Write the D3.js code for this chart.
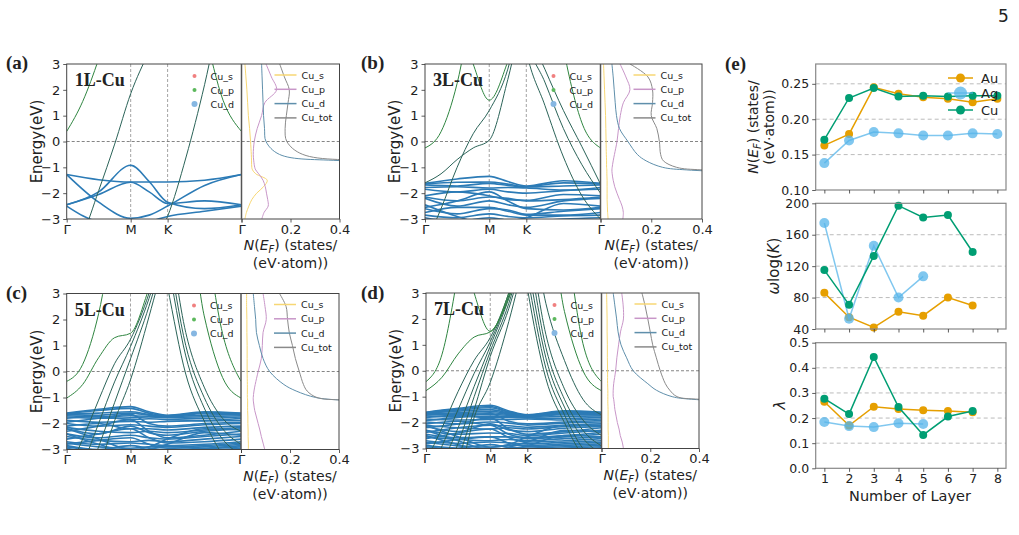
<!DOCTYPE html>
<html>
<head>
<meta charset="utf-8">
<script src="https://d3js.org/d3.v7.min.js"></script>
<style>
  body { margin: 0; background: #fff; }
  text { font-family: "DejaVu Sans", sans-serif; fill: #222; }
  .tag { font-family: "Liberation Serif", serif; font-weight: bold; }
</style>
</head>
<body>
<svg width="1019" height="535"></svg>

<script>
// ---- band structure k-path ----
var kPts   = [0, 0.25, 0.5, 0.75, 1, 1.289, 1.577, 1.866, 2.155, 2.443, 2.732];  // sp bands
var dkPts  = [0, 0.5, 1, 1.289, 1.577, 2.155, 2.732];                             // d bands
var kTicks = [0, 1, 1.577, 2.732];
var kLabels = ["Γ", "M", "K", "Γ"];
var eTicks = [-3, -2, -1, 0, 1, 2, 3];
var dosTicks = [0, 0.2, 0.4];
var orbNames = ["Cu_s", "Cu_p", "Cu_d"];
var dosNames = ["Cu_s", "Cu_p", "Cu_d", "Cu_tot"];
var panelTags  = ["(a)", "(b)", "(c)", "(d)"];
var panelNames = ["1L-Cu", "3L-Cu", "5L-Cu", "7L-Cu"];

// ---- 1L ----
var spGreen1L = [[0.39, 1.55, 3.2, 5.2, 6.5, 7, 7, 6.5, 4.2, 1.6, 0.39]];
var spDark1L = [
  [-4.5, -3.6, -1.9, -0.1, 1.85, 3.5, 5, 7, 7, 7, 7],
  [-8, -8, -8, -7, -5.5, -4.2, -2.9, -0.6, 2.2, 5.5, 8]
];
var dBands1L = [
  [-1.28, -1.48, -1.57, -1.57, -1.57, -1.5, -1.28],
  [-1.28, -2.35, -2.97, -2.85, -2.5, -1.7, -1.28],
  [-2.45, -1.95, -0.92, -1.55, -2.35, -2.6, -2.45],
  [-2.45, -2.05, -1.58, -1.95, -2.4, -2.3, -2.45],
  [-2.5, -3.1, -3.2, -3.1, -2.9, -2.7, -2.5]
];

// ---- 3L ----
var spGreen3L = [
  [-0.25, 0.38, 2.25, 5.4, 8, 8, 8, 8, 3.6, 0.72, -0.25],
  [8, 7, 5, 3.0, 1.6, 3.1, 5.5, 8, 8, 8, 8]
];
var spDark3L = [
  [-4, -2.6, -1.0, 0.3, 1.2, 2.8, 6, 8, 8, 8, 8],
  [-1.6, -1.25, -0.7, -0.25, 0.05, 2.4, 5.5, 8, 8, 8, 8],
  [8, 8, 8, 8, 8, 8, 3.5, 1.4, -0.6, -2.1, -3],
  [8, 8, 8, 8, 8, 8, 4, 2.3, 0.5, -0.9, -2],
  [8, 8, 8, 8, 8, 8, 4.5, 2.8, 1.2, -0.2, -1.65]
];
var dBands3L = [
  [-1.62, -1.45, -1.35, -1.55, -1.72, -1.52, -1.62],
  [-1.64, -1.58, -1.57, -1.65, -1.75, -1.6, -1.64],
  [-1.68, -1.72, -1.62, -1.7, -1.76, -1.72, -1.68],
  [-1.78, -1.75, -1.8, -1.78, -1.8, -1.88, -1.78],
  [-1.85, -1.95, -1.85, -1.95, -2.0, -1.9, -1.85],
  [-2.1, -1.95, -2.1, -2.25, -2.28, -2.05, -2.1],
  [-2.15, -2.3, -2.15, -2.2, -2.3, -2.25, -2.15],
  [-2.2, -2.5, -2.3, -2.45, -2.55, -2.3, -2.2],
  [-2.55, -2.3, -1.95, -2.3, -2.6, -2.65, -2.55],
  [-2.6, -2.8, -2.6, -2.65, -2.82, -2.7, -2.6],
  [-2.75, -2.55, -2.55, -2.7, -2.85, -2.85, -2.75],
  [-2.85, -2.95, -2.8, -2.9, -2.95, -2.88, -2.85],
  [-2.95, -3.1, -2.95, -3.05, -3.1, -3.0, -2.95],
  [-2.45, -2.9, -3.2, -3.1, -2.95, -2.4, -2.5]
];

// ---- 5L ----
var spGreen5L = [
  [-0.38, 0.27, 2.22, 5.5, 8, 8, 8, 8, 5.4, 1.46, -0.38],
  [-1.02, -0.5, 0.53, 1.3, 1.47, 3.2, 5.5, 6.1, 2.14, -0.23, -1.02]
];
var spDark5L = [
  [-4, -2.6, -1.1, 0.3, 1.24, 3.0, 5.5, 8, 8, 8, 8],
  [-5, -3.6, -2.0, -0.4, 0.96, 2.8, 5.2, 8, 8, 8, 8],
  [-6, -4.5, -2.9, -1.2, 0.49, 2.5, 5, 8, 8, 8, 8],
  [-7, -5.5, -3.8, -1.9, -0.32, 2.1, 4.8, 8, 8, 8, 8],
  [8, 8, 8, 8, 8, 7, 3.3, -0.1, -1.9, -3.2, -4],
  [8, 8, 8, 8, 8, 8, 4.3, 0.6, -1.4, -2.6, -3.2],
  [8, 8, 8, 8, 8, 8, 4.8, 1.0, -1.0, -2.2, -2.8],
  [8, 8, 8, 8, 8, 8, 5.5, 1.5, -0.6, -1.8, -2.3]
];
var dBands5L = [
  [-1.6, -1.45, -1.35, -1.55, -1.68, -1.55, -1.6],
  [-1.62, -1.5, -1.42, -1.6, -1.7, -1.58, -1.62],
  [-1.64, -1.6, -1.55, -1.65, -1.72, -1.62, -1.64],
  [-1.66, -1.68, -1.6, -1.68, -1.74, -1.68, -1.66],
  [-1.7, -1.75, -1.7, -1.72, -1.76, -1.74, -1.7],
  [-1.75, -1.8, -1.78, -1.75, -1.78, -1.8, -1.75],
  [-1.8, -1.72, -1.85, -1.82, -1.85, -1.88, -1.8],
  [-1.88, -1.95, -1.92, -1.95, -1.92, -1.9, -1.88],
  [-1.95, -1.8, -1.65, -2.0, -2.1, -2.0, -1.95],
  [-2.0, -2.1, -2.05, -2.1, -2.15, -2.05, -2.0],
  [-2.1, -2.0, -2.2, -2.2, -2.25, -2.15, -2.1],
  [-2.15, -2.3, -2.35, -2.3, -2.35, -2.25, -2.15],
  [-2.2, -2.4, -2.1, -2.35, -2.45, -2.3, -2.2],
  [-2.3, -2.1, -1.85, -2.3, -2.55, -2.45, -2.3],
  [-2.4, -2.55, -2.45, -2.55, -2.6, -2.5, -2.4],
  [-2.5, -2.65, -2.7, -2.65, -2.7, -2.6, -2.5],
  [-2.6, -2.4, -2.2, -2.55, -2.75, -2.7, -2.6],
  [-2.7, -2.8, -2.75, -2.8, -2.85, -2.8, -2.7],
  [-2.75, -2.9, -2.95, -2.9, -2.9, -2.85, -2.75],
  [-2.8, -2.65, -2.55, -2.8, -2.95, -2.9, -2.8],
  [-2.85, -3.0, -2.85, -2.95, -3.0, -2.95, -2.85],
  [-2.9, -3.05, -3.15, -3.05, -3.05, -2.98, -2.9],
  [-2.95, -3.1, -3.0, -3.1, -3.15, -3.05, -2.95],
  [-2.4, -2.8, -3.1, -3.0, -2.8, -2.35, -2.45],
  [-2.2, -2.6, -3.0, -2.9, -2.6, -2.2, -2.25]
];

// ---- 7L ----
var spGreen7L = [
  [-0.42, 0.64, 3.8, 8, 8, 8, 8, 8, 5.4, 1.05, -0.42],
  [-0.77, -0.25, 0.65, 1.3, 1.5, 2.8, 5, 6.1, 2.29, 0, -0.77],
  [8, 8, 5.5, 3.0, 1.52, 3.0, 5.5, 8, 8, 8, 8]
];
var spDark7L = [
  [-3.5, -2.2, -0.8, 0.4, 1.28, 3.0, 5.5, 8, 8, 8, 8],
  [-4.2, -2.9, -1.5, -0.1, 1.12, 2.9, 5.4, 8, 8, 8, 8],
  [-5, -3.6, -2.2, -0.6, 0.95, 2.8, 5.3, 8, 8, 8, 8],
  [-5.6, -4.3, -2.8, -1.0, 0.75, 2.6, 5.2, 8, 8, 8, 8],
  [-6.2, -5, -3.4, -1.5, 0.55, 2.4, 5, 8, 8, 8, 8],
  [-7, -6, -4.3, -1.8, -0.45, 1.9, 4.8, 8, 8, 8, 8],
  [8, 8, 8, 8, 8, 8, 3.2, -0.3, -2.0, -3.3, -4],
  [8, 8, 8, 8, 8, 8, 3.7, 0.1, -1.7, -3.0, -3.6],
  [8, 8, 8, 8, 8, 8, 4.2, 0.5, -1.4, -2.6, -3.2],
  [8, 8, 8, 8, 8, 8, 4.8, 0.9, -1.1, -2.3, -2.9],
  [8, 8, 8, 8, 8, 8, 5.4, 1.4, -0.7, -1.9, -2.5],
  [8, 8, 8, 8, 8, 8, 6.5, 2.6, 0.4, -1.1, -1.7]
];
var dBands7L = [
  [-1.6, -1.45, -1.33, -1.55, -1.7, -1.55, -1.6],
  [-1.61, -1.48, -1.38, -1.58, -1.71, -1.57, -1.61],
  [-1.62, -1.52, -1.43, -1.6, -1.72, -1.59, -1.62],
  [-1.63, -1.56, -1.5, -1.63, -1.73, -1.61, -1.63],
  [-1.65, -1.62, -1.56, -1.66, -1.74, -1.64, -1.65],
  [-1.67, -1.66, -1.62, -1.69, -1.75, -1.67, -1.67],
  [-1.7, -1.7, -1.68, -1.72, -1.77, -1.7, -1.7],
  [-1.74, -1.78, -1.75, -1.76, -1.79, -1.76, -1.74],
  [-1.8, -1.72, -1.82, -1.8, -1.82, -1.84, -1.8],
  [-1.86, -1.9, -1.88, -1.88, -1.86, -1.9, -1.86],
  [-1.92, -1.8, -1.65, -1.95, -2.05, -1.98, -1.92],
  [-1.98, -2.05, -1.98, -2.02, -2.1, -2.02, -1.98],
  [-2.05, -1.95, -2.1, -2.12, -2.18, -2.1, -2.05],
  [-2.1, -2.2, -2.25, -2.2, -2.25, -2.15, -2.1],
  [-2.15, -2.35, -2.05, -2.28, -2.35, -2.22, -2.15],
  [-2.2, -2.05, -1.82, -2.25, -2.45, -2.35, -2.2],
  [-2.3, -2.45, -2.4, -2.42, -2.5, -2.4, -2.3],
  [-2.38, -2.2, -2.1, -2.45, -2.58, -2.5, -2.38],
  [-2.45, -2.58, -2.55, -2.55, -2.62, -2.55, -2.45],
  [-2.55, -2.65, -2.7, -2.65, -2.7, -2.62, -2.55],
  [-2.62, -2.4, -2.25, -2.58, -2.75, -2.7, -2.62],
  [-2.7, -2.8, -2.75, -2.78, -2.82, -2.76, -2.7],
  [-2.76, -2.9, -2.95, -2.88, -2.88, -2.82, -2.76],
  [-2.82, -2.65, -2.55, -2.8, -2.93, -2.88, -2.82],
  [-2.88, -2.98, -2.85, -2.95, -2.98, -2.93, -2.88],
  [-2.93, -3.05, -3.12, -3.05, -3.04, -2.98, -2.93],
  [-2.97, -3.1, -3.0, -3.1, -3.15, -3.05, -2.97],
  [-2.3, -2.7, -3.05, -2.95, -2.75, -2.3, -2.35],
  [-2.1, -2.55, -2.95, -2.85, -2.55, -2.1, -2.15],
  [-2.5, -2.85, -3.15, -3.1, -2.9, -2.5, -2.55]
];

// ---- projected DOS, order Cu_s, Cu_p, Cu_d, Cu_tot ----
var dosE = [3, 2.5, 2, 1.5, 1, 0.5, 0, -0.5, -0.75, -1, -1.1, -1.25, -1.5, -1.75, -2, -2.25, -2.5, -2.75, -3];
var dos1L = [
  [.014, .018, .022, .025, .028, .033, .037, .040, .041, .042, .045, .058, .105, .09, .062, .042, .03, .02, .014],
  [.10, .122, .143, .095, .082, .064, .052, .048, .05, .054, .058, .07, .088, .097, .102, .107, .109, .092, .083],
  [.082, .084, .086, .088, .09, .094, .10, .155, .42, 1.5, 1.5, 1.5, 1.5, 1.5, 1.5, 1.5, 1.5, 1.5, 1.5],
  [.156, .175, .195, .19, .183, .178, .185, .25, .6, 2, 2, 2, 2, 2, 2, 2, 2, 2, 2]
];
var dos3L = [
  [.012, .014, .016, .018, .02, .021, .022, .023, .024, .024, .025, .025, .026, .026, .026, .026, .027, .028, .03],
  [.077, .1, .116, .09, .078, .071, .065, .055, .05, .046, .045, .046, .05, .056, .065, .075, .085, .09, .088],
  [.045, .05, .054, .058, .063, .075, .108, .145, .18, .245, .34, .8, 1.5, 1.5, 1.5, 1.5, 1.5, 1.5, 1.5],
  [.116, .187, .205, .205, .2, .222, .232, .237, .248, .3, .4, .9, 2, 2, 2, 2, 2, 2, 2]
];
var dos5L = [
  [.023, .023, .024, .024, .025, .025, .025, .026, .026, .026, .027, .027, .027, .028, .028, .029, .029, .03, .03],
  [.09, .098, .103, .09, .087, .083, .07, .058, .053, .05, .05, .052, .056, .063, .07, .077, .083, .09, .097],
  [.05, .055, .06, .063, .075, .09, .117, .175, .225, .305, .41, .9, 1.5, 1.5, 1.5, 1.5, 1.5, 1.5, 1.5],
  [.157, .184, .19, .197, .21, .222, .238, .255, .27, .31, .42, .9, 2, 2, 2, 2, 2, 2, 2]
];
var dos7L = [
  [.021, .022, .023, .023, .024, .024, .025, .025, .026, .026, .026, .026, .027, .027, .027, .027, .028, .028, .028],
  [.083, .089, .09, .078, .07, .063, .058, .05, .048, .048, .05, .052, .055, .06, .065, .072, .077, .085, .09],
  [.048, .055, .062, .068, .08, .103, .13, .19, .225, .29, .37, .9, 1.5, 1.5, 1.5, 1.5, 1.5, 1.5, 1.5],
  [.166, .179, .19, .2, .21, .225, .241, .262, .28, .31, .4, .9, 2, 2, 2, 2, 2, 2, 2]
];

// ---- panel (e) ----
var layers = [1, 2, 3, 4, 5, 6, 7, 8];
var metals = ["Au", "Ag", "Cu"];
var nefAu = [0.163, 0.179, 0.245, 0.236, 0.231, 0.229, 0.224, 0.229];
var nefAg = [0.138, 0.170, 0.182, 0.180, 0.177, 0.177, 0.180, 0.179];
var nefCu = [0.171, 0.230, 0.244, 0.232, 0.233, 0.232, 0.233, 0.233];
var wlogAu = [86, 55, 42, 62, 57, 80, 70, null];
var wlogAg = [175, 53, 146, 80, 107, null, null, null];
var wlogCu = [115, 71, 133, 197, 182, 185, 138, null];
var lamAu = [0.265, 0.170, 0.245, 0.236, 0.231, 0.228, 0.223, null];
var lamAg = [0.184, 0.168, 0.164, 0.179, 0.176, null, null, null];
var lamCu = [0.277, 0.216, 0.443, 0.244, 0.133, 0.206, 0.228, null];

// ---------------------------------------------------------------
var svg = d3.select("svg");
var defs = svg.append("defs");

var orbColors = ["#f08080", "#5cb85c", "#86b7e2"];
var dosColors = ["#f7d774", "#c896c8", "#5f8fab", "#8a8a8a"];
var greenCol = "#2f8540", darkCol = "#2b6358", dCol = "#2c7bb6";

// layout of the four band/DOS panels
var boxes = [
  {x0: 66.7, x1: 241.5, x2: 339.5, y0: 64,    y1: 219,   tx: 6,   ty: 69},
  {x0: 425,  x1: 600.5, x2: 702,   y0: 64,    y1: 219,   tx: 361, ty: 69},
  {x0: 66.7, x1: 241,   x2: 339,   y0: 293.5, y1: 449.5, tx: 6,   ty: 299},
  {x0: 426,  x1: 601.5, x2: 699,   y0: 293,   y1: 448.5, tx: 361, ty: 299}
];
var panelData = [
  {green: spGreen1L, dark: spDark1L, d: dBands1L, dos: dos1L},
  {green: spGreen3L, dark: spDark3L, d: dBands3L, dos: dos3L},
  {green: spGreen5L, dark: spDark5L, d: dBands5L, dos: dos5L},
  {green: spGreen7L, dark: spDark7L, d: dBands7L, dos: dos7L}
];

function fmtE(d) { return d < 0 ? "\u2212" + Math.abs(d) : String(d); }

function styleAxis(g) {
  g.attr("font-size", 13).attr("font-family", "DejaVu Sans").attr("color", "#222");
  g.select(".domain").remove();
  g.selectAll(".tick line").attr("stroke", "#333").attr("stroke-width", 0.8);
}

function drawPanel(p, b, idx) {
  var x = d3.scaleLinear().domain([0, 2.732]).range([b.x0, b.x1]);
  var y = d3.scaleLinear().domain([-3, 3]).range([b.y1, b.y0]);
  var xd = d3.scaleLinear().domain([0, 0.4]).range([b.x1, b.x2]);

  defs.append("clipPath").attr("id", "cb" + idx).append("rect")
    .attr("x", b.x0).attr("y", b.y0).attr("width", b.x1 - b.x0).attr("height", b.y1 - b.y0);
  defs.append("clipPath").attr("id", "cd" + idx).append("rect")
    .attr("x", b.x1).attr("y", b.y0).attr("width", b.x2 - b.x1).attr("height", b.y1 - b.y0);

  var g = svg.append("g");

  // guide lines
  g.selectAll(".kv").data(kTicks.slice(1, 3)).join("line")
    .attr("x1", x).attr("x2", x).attr("y1", b.y0).attr("y2", b.y1)
    .attr("stroke", "#999").attr("stroke-width", 0.9).attr("stroke-dasharray", "3,2");
  g.append("line").attr("x1", b.x0).attr("x2", b.x2).attr("y1", y(0)).attr("y2", y(0))
    .attr("stroke", "#777").attr("stroke-width", 0.9).attr("stroke-dasharray", "3,2");

  // bands
  var bg = g.append("g").attr("clip-path", "url(#cb" + idx + ")");
  var lineD = d3.line().x(function(v, i) { return x(dkPts[i]); }).y(function(v) { return y(v); })
    .curve(d3.curveMonotoneX);
  var lineS = d3.line().x(function(v, i) { return x(kPts[i]); }).y(function(v) { return y(v); })
    .curve(d3.curveMonotoneX);
  bg.selectAll(".db").data(p.d).join("path").attr("d", lineD)
    .attr("fill", "none").attr("stroke", dCol).attr("stroke-width", 1.6);
  bg.selectAll(".sd").data(p.dark).join("path").attr("d", lineS)
    .attr("fill", "none").attr("stroke", darkCol).attr("stroke-width", 1);
  bg.selectAll(".sg").data(p.green).join("path").attr("d", lineS)
    .attr("fill", "none").attr("stroke", greenCol).attr("stroke-width", 1);

  // DOS curves
  var dg = g.append("g").attr("clip-path", "url(#cd" + idx + ")");
  var lineDos = d3.line().x(function(v) { return xd(v); }).y(function(v, i) { return y(dosE[i]); })
    .curve(d3.curveCatmullRom);
  dg.selectAll(".dos").data(p.dos).join("path").attr("d", lineDos)
    .attr("fill", "none").attr("stroke", function(d, i) { return dosColors[i]; }).attr("stroke-width", 1);

  // frames
  g.append("rect").attr("x", b.x0).attr("y", b.y0).attr("width", b.x2 - b.x0).attr("height", b.y1 - b.y0)
    .attr("fill", "none").attr("stroke", "#444").attr("stroke-width", 1);
  g.append("line").attr("x1", b.x1).attr("x2", b.x1).attr("y1", b.y0).attr("y2", b.y1)
    .attr("stroke", "#555").attr("stroke-width", 1.5);

  // axes
  g.append("g").attr("transform", "translate(" + b.x0 + ",0)")
    .call(d3.axisLeft(y).tickValues(eTicks).tickFormat(fmtE).tickSize(3.5).tickPadding(3)).call(styleAxis);
  g.append("g").attr("transform", "translate(0," + b.y1 + ")")
    .call(d3.axisBottom(x).tickValues(kTicks).tickFormat(function(d, i) { return kLabels[i]; })
      .tickSize(3.5).tickPadding(2)).call(styleAxis);
  g.append("g").attr("transform", "translate(0," + b.y1 + ")")
    .call(d3.axisBottom(xd).tickValues(dosTicks)
      .tickFormat(function(d) { return d === 0 ? "" : d3.format(".1f")(d); }).tickSize(3.5).tickPadding(2))
    .call(styleAxis);

  // labels
  g.append("text").attr("transform", "translate(" + (b.x0 - 25) + "," + ((b.y0 + b.y1) / 2) + ") rotate(-90)")
    .attr("text-anchor", "middle").attr("font-size", 15).text("Energy(eV)");
  var cx = (b.x1 + b.x2) / 2;
  var t1 = g.append("text").attr("x", cx).attr("y", b.y1 + 31).attr("text-anchor", "middle").attr("font-size", 14);
  t1.append("tspan").attr("font-style", "italic").text("N");
  t1.append("tspan").text("(");
  t1.append("tspan").attr("font-style", "italic").text("E");
  t1.append("tspan").attr("font-style", "italic").attr("font-size", 10).attr("dy", 3).text("F");
  t1.append("tspan").attr("dy", -3).text(") (states/");
  g.append("text").attr("x", cx).attr("y", b.y1 + 49).attr("text-anchor", "middle").attr("font-size", 14)
    .text("(eV\u00b7atom))");

  g.append("text").attr("class", "tag").attr("x", b.tx).attr("y", b.ty).attr("font-size", 19).text(panelTags[idx]);
  g.append("text").attr("class", "tag").attr("x", b.x0 + 8).attr("y", b.y0 + 22).attr("font-size", 18)
    .text(panelNames[idx]);

  // orbital legend (dots)
  var lx = b.x1 - 47;
  orbNames.forEach(function(n, i) {
    var ly = b.y0 + 12 + i * 14;
    g.append("circle").attr("cx", lx).attr("cy", ly).attr("r", i === 2 ? 3 : 2).attr("fill", orbColors[i]);
    g.append("text").attr("x", lx + 16).attr("y", ly + 3.5).attr("font-size", 9.5).attr("fill", "#333").text(n);
  });
  // DOS legend (lines)
  dosNames.forEach(function(n, i) {
    var ly = b.y0 + 11 + i * 14.3;
    g.append("line").attr("x1", b.x1 + 33).attr("x2", b.x1 + 55).attr("y1", ly).attr("y2", ly)
      .attr("stroke", dosColors[i]).attr("stroke-width", 1.5);
    g.append("text").attr("x", b.x1 + 60).attr("y", ly + 3.5).attr("font-size", 9.5).attr("fill", "#333").text(n);
  });
}

boxes.forEach(function(b, i) { drawPanel(panelData[i], b, i); });

// ---------------- panel (e) ----------------
var metalColors = ["#E69F00", "#56B4E9", "#009E73"];
var metalR = [4, 5, 4];
var metalOp = [1, 0.75, 1];
var ex = d3.scaleLinear().domain([0.65, 8.35]).range([815.7, 1006]);
var eRows = [
  {y0: 64, y1: 190, dom: [0.10, 0.278], ticks: [0.10, 0.15, 0.20, 0.25], fmt: ".2f", grid: [0.15, 0.20, 0.25],
   series: [nefAu, nefAg, nefCu]},
  {y0: 203.3, y1: 329, dom: [40, 200], ticks: [40, 80, 120, 160, 200], fmt: "d", grid: [80, 120, 160],
   series: [wlogAu, wlogAg, wlogCu]},
  {y0: 342.7, y1: 468.3, dom: [0, 0.5], ticks: [0, 0.1, 0.2, 0.3, 0.4, 0.5], fmt: ".1f", grid: [0.1, 0.2, 0.3, 0.4],
   series: [lamAu, lamAg, lamCu]}
];

eRows.forEach(function(r, ri) {
  var y = d3.scaleLinear().domain(r.dom).range([r.y1, r.y0]);
  var g = svg.append("g");
  g.selectAll(".gr").data(r.grid).join("line")
    .attr("x1", 815.7).attr("x2", 1006).attr("y1", y).attr("y2", y)
    .attr("stroke", "#bbb").attr("stroke-width", 1).attr("stroke-dasharray", "4,3");
  r.series.forEach(function(s, si) {
    var line = d3.line().defined(function(v) { return v != null; })
      .x(function(v, i) { return ex(layers[i]); }).y(function(v) { return y(v); });
    g.append("path").attr("d", line(s)).attr("fill", "none").attr("stroke", metalColors[si])
      .attr("stroke-width", 1.5).attr("opacity", metalOp[si]);
    g.selectAll(".m" + si).data(s.map(function(v, i) { return {v: v, l: layers[i]}; })
      .filter(function(d) { return d.v != null; }))
      .join("circle").attr("cx", function(d) { return ex(d.l); }).attr("cy", function(d) { return y(d.v); })
      .attr("r", metalR[si]).attr("fill", metalColors[si]).attr("opacity", metalOp[si]);
  });
  g.append("rect").attr("x", 815.7).attr("y", r.y0).attr("width", 1006 - 815.7).attr("height", r.y1 - r.y0)
    .attr("fill", "none").attr("stroke", "#888").attr("stroke-width", 1.2);
  g.append("g").attr("transform", "translate(815.7,0)")
    .call(d3.axisLeft(y).tickValues(r.ticks).tickFormat(d3.format(r.fmt)).tickSize(3.5).tickPadding(3))
    .call(styleAxis).attr("font-size", 12.5);
  var xa = d3.axisBottom(ex).tickValues(layers).tickSize(3.5).tickPadding(2);
  if (ri < 2) xa.tickFormat("");
  g.append("g").attr("transform", "translate(0," + r.y1 + ")").call(xa).call(styleAxis).attr("font-size", 12.5);
});

// y labels of (e)
var yl = svg.append("text").attr("transform", "translate(758,127) rotate(-90)")
  .attr("text-anchor", "middle").attr("font-size", 14);
yl.append("tspan").attr("font-style", "italic").text("N");
yl.append("tspan").text("(");
yl.append("tspan").attr("font-style", "italic").text("E");
yl.append("tspan").attr("font-style", "italic").attr("font-size", 10).attr("dy", 3).text("F");
yl.append("tspan").attr("dy", -3).text(") (states/");
svg.append("text").attr("transform", "translate(774,127) rotate(-90)")
  .attr("text-anchor", "middle").attr("font-size", 14).text("(eV\u00b7atom))");
var wl = svg.append("text").attr("transform", "translate(779,266) rotate(-90)")
  .attr("text-anchor", "middle").attr("font-size", 15);
wl.append("tspan").attr("font-style", "italic").text("ω");
wl.append("tspan").text("log(");
wl.append("tspan").attr("font-style", "italic").text("K");
wl.append("tspan").text(")");
svg.append("text").attr("transform", "translate(785,405) rotate(-90)")
  .attr("text-anchor", "middle").attr("font-size", 15).attr("font-style", "italic").text("λ");
svg.append("text").attr("x", 910).attr("y", 501).attr("text-anchor", "middle").attr("font-size", 14.5)
  .text("Number of Layer");
svg.append("text").attr("class", "tag").attr("x", 725).attr("y", 70).attr("font-size", 19).text("(e)");

// legend of (e)
metals.forEach(function(m, i) {
  var ly = [78, 93, 110][i];
  svg.append("line").attr("x1", 948).attr("x2", 973).attr("y1", ly).attr("y2", ly)
    .attr("stroke", metalColors[i]).attr("stroke-width", 1.5).attr("opacity", metalOp[i]);
  svg.append("circle").attr("cx", 960.5).attr("cy", ly).attr("r", i === 1 ? 6.5 : 4.5)
    .attr("fill", metalColors[i]).attr("opacity", metalOp[i]);
  svg.append("text").attr("x", 981).attr("y", ly + 4.5).attr("font-size", 13).text(m);
});

// page number
svg.append("text").attr("x", 998).attr("y", 22).attr("font-family", "Liberation Serif")
  .attr("font-size", 17).text("5");
</script>
</body>
</html>
